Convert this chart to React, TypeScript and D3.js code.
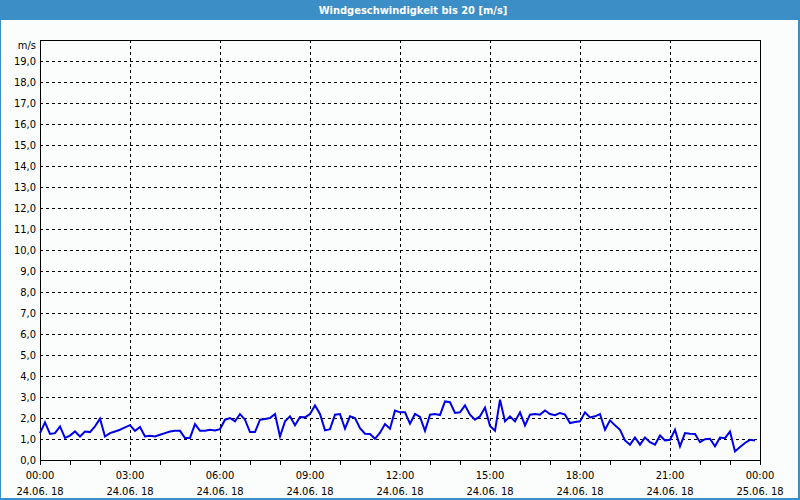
import React from "react";
import * as d3 from "d3";

const TITLE = "Windgeschwindigkeit bis 20 [m/s]";
const UNIT = "m/s";
const START = new Date(2018, 5, 24, 0, 0);
const END = new Date(2018, 5, 25, 0, 0);
const STEP_MIN = 10;
const windValues: number[] = [
  1.28, 1.79, 1.24, 1.28, 1.6, 1.05, 1.16, 1.36, 1.12, 1.36,
  1.33, 1.6, 1.97, 1.12, 1.28, 1.36, 1.44, 1.55, 1.66, 1.39,
  1.57, 1.12, 1.16, 1.12, 1.2, 1.28, 1.36, 1.39, 1.39, 1.05,
  1.05, 1.71, 1.39, 1.39, 1.44, 1.41, 1.47, 1.92, 2.0, 1.84,
  2.19, 1.92, 1.33, 1.33, 1.92, 1.95, 2.0, 2.19, 1.12, 1.84,
  2.08, 1.65, 2.05, 2.03, 2.19, 2.6, 2.19, 1.41, 1.47, 2.16,
  2.19, 1.49, 2.08, 2.0, 1.52, 1.25, 1.24, 1.01, 1.3, 1.71,
  1.49, 2.35, 2.27, 2.27, 1.73, 2.19, 2.05, 1.39, 2.16, 2.19,
  2.14, 2.79, 2.75, 2.24, 2.27, 2.6, 2.16, 1.92, 2.08, 2.5,
  1.62, 1.39, 2.87, 1.84, 2.08, 1.84, 2.27, 1.65, 2.16, 2.19,
  2.16, 2.36, 2.19, 2.13, 2.24, 2.16, 1.76, 1.81, 1.84, 2.27,
  2.03, 2.08, 2.19, 1.44, 1.89, 1.65, 1.44, 0.93, 0.73, 1.07,
  0.73, 1.07, 0.85, 0.73, 1.17, 0.93, 0.96, 1.44, 0.65, 1.28,
  1.25, 1.24, 0.85, 0.99, 1.01, 0.65, 1.07, 1.04, 1.36, 0.41,
  0.62, 0.81, 0.96, 0.93,
];
const yTicks: number[] = d3.range(0, 20, 1);

const W = 800;
const H = 500;
const M = { left: 40, top: 40, right: 760, bottom: 460 };
const FONT = "'DejaVu Sans Condensed', 'DejaVu Sans', sans-serif";

export default function App() {
  const x = d3.scaleTime().domain([START, END]).range([M.left, M.right]);
  const y = d3.scaleLinear().domain([0, 20]).range([M.bottom, M.top]);
  const data = windValues.map((v, i) => ({
    t: new Date(START.getTime() + i * STEP_MIN * 60000),
    v,
  }));
  const line = d3
    .line<{ t: Date; v: number }>()
    .x((d) => x(d.t))
    .y((d) => y(d.v));
  const hourTicks = d3.timeHour.every(1)!.range(START, new Date(END.getTime() + 1));
  const majorTicks = d3.timeHour.every(3)!.range(START, new Date(END.getTime() + 1));
  const fmtTime = d3.timeFormat("%H:%M");
  const fmtDate = d3.timeFormat("%d.%m.%y");
  const fmtY = (v: number) => v.toFixed(1).replace(".", ",");

  return (
    <svg
      width={W}
      height={H}
      style={{ position: "absolute", left: 0, top: 0, display: "block" }}
      fontFamily={FONT}
    >
      <rect x={0} y={0} width={W} height={H} fill="#3c8fc6" />
      <rect x={1} y={20} width={W - 3} height={H - 22} fill="#fbfdfc" />
      <text
        x={413}
        y={14}
        textAnchor="middle"
        fill="#ffffff"
        fontSize={11}
        fontWeight="bold"
      >
        {TITLE}
      </text>
      {/* horizontal grid */}
      {yTicks.slice(1).map((v) => (
        <line
          key={"hy" + v}
          x1={M.left}
          x2={M.right}
          y1={Math.round(y(v)) + 0.5}
          y2={Math.round(y(v)) + 0.5}
          stroke="#000"
          strokeDasharray="3,3"
          shapeRendering="crispEdges"
        />
      ))}
      {/* vertical grid */}
      {majorTicks.slice(1, -1).map((t, i) => (
        <line
          key={"vx" + i}
          x1={Math.round(x(t)) + 0.5}
          x2={Math.round(x(t)) + 0.5}
          y1={M.top}
          y2={M.bottom}
          stroke="#000"
          strokeDasharray="3,3"
          shapeRendering="crispEdges"
        />
      ))}
      {/* frame */}
      <rect
        x={M.left + 0.5}
        y={M.top + 0.5}
        width={M.right - M.left}
        height={M.bottom - M.top}
        fill="none"
        stroke="#000"
        shapeRendering="crispEdges"
      />
      {/* hour ticks */}
      {hourTicks.map((t, i) => (
        <line
          key={"tk" + i}
          x1={Math.round(x(t)) + 0.5}
          x2={Math.round(x(t)) + 0.5}
          y1={M.bottom}
          y2={M.bottom + 5}
          stroke="#000"
          shapeRendering="crispEdges"
        />
      ))}
      {/* y labels */}
      {yTicks.map((v) => (
        <text
          key={"yl" + v}
          x={36}
          y={y(v) + 4}
          textAnchor="end"
          fontSize={11}
          fill="#000"
        >
          {fmtY(v)}
        </text>
      ))}
      <text x={36} y={49} textAnchor="end" fontSize={11} fill="#000">
        {UNIT}
      </text>
      {/* x labels */}
      {majorTicks.map((t, i) => (
        <g key={"xl" + i}>
          <text x={x(t)} y={479} textAnchor="middle" fontSize={11} fill="#000">
            {fmtTime(t)}
          </text>
          <text x={x(t)} y={495} textAnchor="middle" fontSize={11} fill="#000">
            {fmtDate(t).replace(/\.(\d\d)$/, ". $1")}
          </text>
        </g>
      ))}
      <path
        d={line(data) || ""}
        fill="none"
        stroke="#0000e6"
        strokeWidth={2}
        strokeLinejoin="miter"
      />
    </svg>
  );
}
